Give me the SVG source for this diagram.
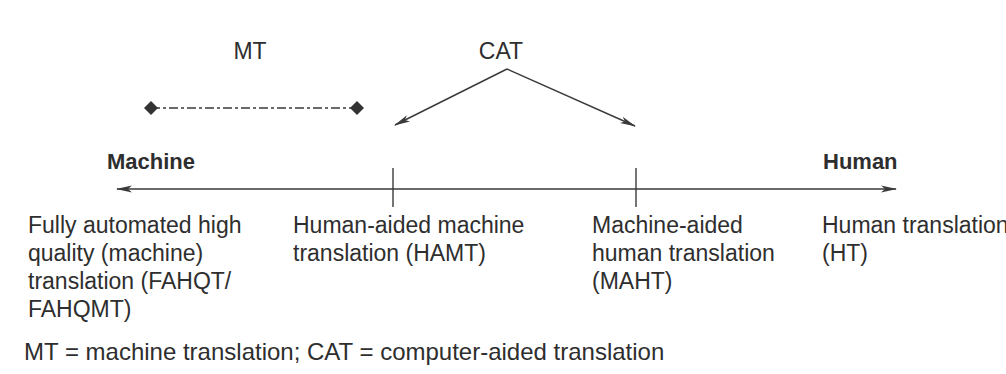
<svg xmlns="http://www.w3.org/2000/svg" width="1006" height="374" viewBox="0 0 1006 374">
<style>
text{font-family:"Liberation Sans",Arial,sans-serif;fill:#2e2e2e;}
.t{font-size:23px;}
.f{font-size:24px;}
.b{font-size:22px;font-weight:bold;}
.ln{stroke:#3a3a3a;stroke-width:1.4;fill:none;}
</style>
<defs>
<marker id="ah" viewBox="0 0 16 8" refX="15" refY="4" markerWidth="16" markerHeight="8" markerUnits="userSpaceOnUse" orient="auto">
<path d="M0,0.5 L16,4 L0,7.5 L4,4 Z" fill="#3a3a3a"/>
</marker>
</defs>
<rect width="1006" height="374" fill="#ffffff"/>
<g id="mt">
<text class="t" x="250" y="59" text-anchor="middle">MT</text>
<line x1="151" y1="108" x2="357" y2="108" stroke="#3a3a3a" stroke-width="1.6" stroke-dasharray="9 3 3 3"/>
<path d="M151,101 L158,108 L151,115 L144,108 Z" fill="#333"/>
<path d="M357,101 L364,108 L357,115 L350,108 Z" fill="#333"/>
</g>
<g id="cat">
<text class="t" x="501" y="59" text-anchor="middle">CAT</text>
</g>
<g id="machine"><text class="b" x="107" y="169">Machine</text></g>
<g id="human"><text class="b" x="823" y="169">Human</text></g>
<g id="fahqt">
<text class="t" x="28" y="233">Fully automated high</text>
<text class="t" x="28" y="261">quality (machine)</text>
<text class="t" x="28" y="289">translation (FAHQT/</text>
<text class="t" x="28" y="317">FAHQMT)</text>
</g>
<g id="hamt">
<text class="t" x="293" y="233">Human-aided machine</text>
<text class="t" x="293" y="261">translation (HAMT)</text>
</g>
<g id="maht">
<text class="t" x="592" y="233">Machine-aided</text>
<text class="t" x="592" y="261">human translation</text>
<text class="t" x="592" y="289">(MAHT)</text>
</g>
<g id="ht">
<text class="t" x="822" y="233">Human translation</text>
<text class="t" x="822" y="261">(HT)</text>
</g>
<g id="connectors">
<line class="ln" x1="505" y1="189" x2="117" y2="189" marker-end="url(#ah)"/>
<line class="ln" x1="505" y1="189" x2="896" y2="189" marker-end="url(#ah)"/>
<line class="ln" x1="393" y1="168" x2="393" y2="207"/>
<line class="ln" x1="636" y1="168" x2="636" y2="207"/>
<line class="ln" x1="507" y1="69" x2="395" y2="125" marker-end="url(#ah)"/>
<line class="ln" x1="507" y1="69" x2="635" y2="126" marker-end="url(#ah)"/>
</g>
<g id="footer">
<text class="f" x="24" y="360">MT = machine translation; CAT = computer-aided translation</text>
</g>
</svg>
